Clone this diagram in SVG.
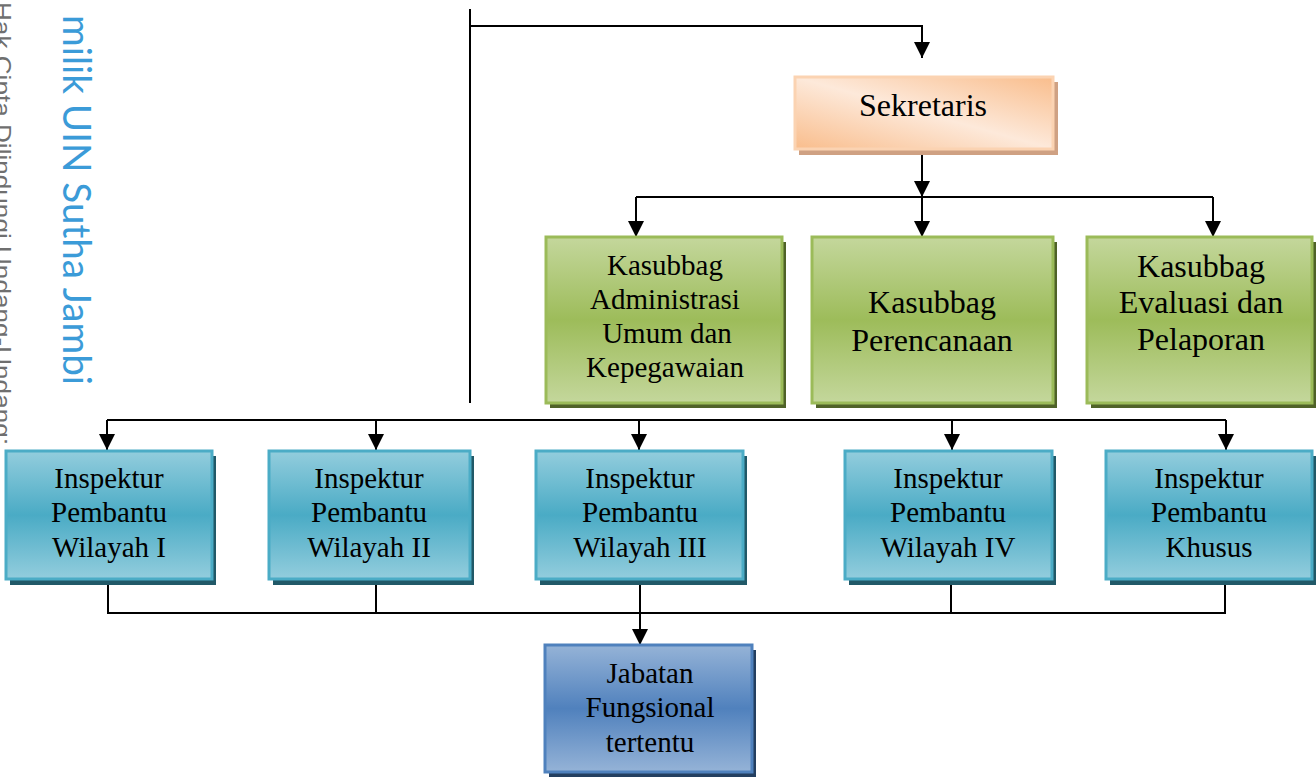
<svg xmlns="http://www.w3.org/2000/svg" width="1316" height="777" viewBox="0 0 1316 777">
<defs>
<linearGradient id="gOrange" x1="1" y1="0" x2="0" y2="1">
<stop offset="0" stop-color="#f9bd8c"/>
<stop offset="0.5" stop-color="#fde9da"/>
<stop offset="1" stop-color="#f9bd8c"/>
</linearGradient>
<linearGradient id="gGreen" x1="0" y1="0" x2="0" y2="1">
<stop offset="0" stop-color="#c4d79c"/>
<stop offset="0.5" stop-color="#9dbc5a"/>
<stop offset="1" stop-color="#c4d79c"/>
</linearGradient>
<linearGradient id="gAqua" x1="0" y1="0" x2="0" y2="1">
<stop offset="0" stop-color="#93cddd"/>
<stop offset="0.5" stop-color="#4aabc5"/>
<stop offset="1" stop-color="#93cddd"/>
</linearGradient>
<linearGradient id="gBlue" x1="0" y1="0" x2="0" y2="1">
<stop offset="0" stop-color="#95b3d7"/>
<stop offset="0.5" stop-color="#5081bd"/>
<stop offset="1" stop-color="#95b3d7"/>
</linearGradient>
<marker id="arr" markerUnits="userSpaceOnUse" markerWidth="16" markerHeight="16" viewBox="0 0 16 16" refX="16" refY="8" orient="auto">
<path d="M0,0 L16,8 L0,16 Z" fill="#000"/>
</marker>
</defs>
<style>
.t{font-family:"Liberation Serif","Times New Roman",serif;fill:#000;text-anchor:middle}
.s29{font-size:29px}
.s32{font-size:32px}
.ln{fill:none;stroke:#000;stroke-width:2}
.ar{fill:none;stroke:#000;stroke-width:2;marker-end:url(#arr)}
.orange{fill:url(#gOrange);stroke:#fbd3b2;stroke-width:3}
.green{fill:url(#gGreen);stroke:#9bbb59;stroke-width:3}
.aqua{fill:url(#gAqua);stroke:#4bacc6;stroke-width:3}
.blue{fill:url(#gBlue);stroke:#4f81bd;stroke-width:3}
</style>
<g id="watermark">
<text transform="translate(-6,2) rotate(90)" font-family="Liberation Sans, Arial, sans-serif" font-size="24" fill="#6f6f6f" textLength="443" lengthAdjust="spacingAndGlyphs">Hak Cipta Dilindungi Undang-Undang:</text>
<text transform="translate(63,15) rotate(90)" font-family="Lato, sans-serif" font-weight="400" font-size="38" fill="#3b9bd8" textLength="370" lengthAdjust="spacingAndGlyphs">milik UIN Sutha Jambi</text>
</g>
<g id="connectors">
<path class="ln" d="M470,9 V403"/>
<path class="ar" d="M470,26 H922 V58"/>
<path class="ar" d="M922,150 V197"/>
<path class="ln" d="M636,197 H1213"/>
<path class="ar" d="M636,197 V237"/>
<path class="ar" d="M922,197 V237"/>
<path class="ar" d="M1213,197 V237"/>
<path class="ln" d="M107,420 H1226"/>
<path class="ar" d="M107,420 V450"/>
<path class="ar" d="M376,420 V450"/>
<path class="ar" d="M639,420 V450"/>
<path class="ar" d="M952,420 V450"/>
<path class="ar" d="M1226,420 V450"/>
<path class="ln" d="M108,580 V613 H1225 V580"/>
<path class="ln" d="M376,580 V613"/>
<path class="ln" d="M951,580 V613"/>
<path class="ar" d="M640,580 V645"/>
</g>
<g id="sekretaris">
<rect x="799" y="82" width="259" height="73" fill="#cfa183"/>
<rect x="795" y="77" width="258" height="72" class="orange"/>
<text class="t s32" x="923" y="116">Sekretaris</text>
</g>
<g id="kasubbag-admin">
<rect x="550" y="242" width="236" height="166" fill="#4f6228"/>
<rect x="546" y="237" width="236" height="166" class="green"/>
<text class="t s29" x="665" y="275">Kasubbag</text>
<text class="t s29" x="665" y="309">Administrasi</text>
<text class="t s29" x="667" y="343">Umum dan</text>
<text class="t s29" x="665" y="377">Kepegawaian</text>
</g>
<g id="kasubbag-perencanaan">
<rect x="816" y="242" width="241" height="166" fill="#4f6228"/>
<rect x="812" y="237" width="241" height="166" class="green"/>
<text class="t s32" x="932" y="313">Kasubbag</text>
<text class="t s32" x="932" y="351">Perencanaan</text>
</g>
<g id="kasubbag-evaluasi">
<rect x="1091" y="242" width="225" height="166" fill="#4f6228"/>
<rect x="1087" y="237" width="225" height="166" class="green"/>
<text class="t s32" x="1201" y="277">Kasubbag</text>
<text class="t s32" x="1201" y="313">Evaluasi dan</text>
<text class="t s32" x="1201" y="350">Pelaporan</text>
</g>
<g id="irban-1">
<rect x="10" y="456" width="206" height="129" fill="#215968"/>
<rect x="6" y="451" width="206" height="128" class="aqua"/>
<text class="t s29" x="109" y="488">Inspektur</text>
<text class="t s29" x="109" y="522">Pembantu</text>
<text class="t s29" x="109" y="557">Wilayah I</text>
</g>
<g id="irban-2">
<rect x="273" y="456" width="201" height="129" fill="#215968"/>
<rect x="269" y="451" width="201" height="128" class="aqua"/>
<text class="t s29" x="369" y="488">Inspektur</text>
<text class="t s29" x="369" y="522">Pembantu</text>
<text class="t s29" x="369" y="557">Wilayah II</text>
</g>
<g id="irban-3">
<rect x="540" y="456" width="207" height="129" fill="#215968"/>
<rect x="536" y="451" width="207" height="128" class="aqua"/>
<text class="t s29" x="640" y="488">Inspektur</text>
<text class="t s29" x="640" y="522">Pembantu</text>
<text class="t s29" x="640" y="557">Wilayah III</text>
</g>
<g id="irban-4">
<rect x="849" y="456" width="207" height="129" fill="#215968"/>
<rect x="845" y="451" width="207" height="128" class="aqua"/>
<text class="t s29" x="948" y="488">Inspektur</text>
<text class="t s29" x="948" y="522">Pembantu</text>
<text class="t s29" x="948" y="557">Wilayah IV</text>
</g>
<g id="irban-khusus">
<rect x="1110" y="456" width="206" height="129" fill="#215968"/>
<rect x="1106" y="451" width="206" height="128" class="aqua"/>
<text class="t s29" x="1209" y="488">Inspektur</text>
<text class="t s29" x="1209" y="522">Pembantu</text>
<text class="t s29" x="1209" y="557">Khusus</text>
</g>
<g id="jabatan-fungsional">
<rect x="549" y="650" width="207" height="127" fill="#243f60"/>
<rect x="545" y="645" width="207" height="127" class="blue"/>
<text class="t s29" x="650" y="683">Jabatan</text>
<text class="t s29" x="650" y="717">Fungsional</text>
<text class="t s29" x="650" y="752">tertentu</text>
</g>
</svg>
